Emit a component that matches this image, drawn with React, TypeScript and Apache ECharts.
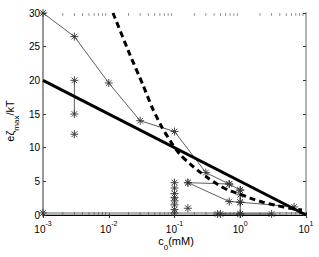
import React, { useEffect, useRef } from "react";
import * as echarts from "echarts";

const FONT = "Liberation Sans, Arial, Helvetica, sans-serif";

// x tick decades and y ticks
const xDecades = [0.001, 0.01, 0.1, 1, 10];
const yTicks = [0, 5, 10, 15, 20, 25, 30];
const xMinorTicks = [
  0.002, 0.003, 0.004, 0.005, 0.006, 0.007, 0.008, 0.009,
  0.02, 0.03, 0.04, 0.05, 0.06, 0.07, 0.08, 0.09,
  0.2, 0.3, 0.4, 0.5, 0.6, 0.7, 0.8, 0.9,
  2, 3, 4, 5, 6, 7, 8, 9,
];

// thick straight line
const thickLine: [number, number][] = [
  [0.001, 20],
  [10, 0],
];

// thick dashed curve
const dashedCurve: [number, number][] = [
  [0.0116, 30], [0.021, 23.8], [0.0332, 19.3], [0.0455, 16.0], [0.0646, 13.0],
  [0.0917, 10.6], [0.121, 9.0], [0.172, 7.6], [0.228, 6.6], [0.323, 5.5],
  [0.459, 4.5], [0.652, 3.7], [0.99, 3.1], [1.41, 2.5], [2.22, 1.9],
  [3.62, 1.4], [5.71, 1.0], [8.69, 0.75],
];

// thin series with asterisks
const seriesA: [number, number][] = [
  [0.001, 30], [0.003, 26.5], [0.01, 19.6], [0.03, 14], [0.1, 12.4],
  [0.3, 6.3], [0.68, 4.6], [1, 3.7],
];
const seriesB: [number, number][] = [[0.003, 20], [0.003, 15]];
const seriesC: [number, number][] = [[0.003, 12]];
const seriesD: [number, number][] = [[0.16, 4.8], [0.68, 4.6]];
const seriesE: [number, number][] = [[0.16, 4.8], [0.68, 2.0], [1, 1.9], [6.6, 1.2]];
const seriesF: [number, number][] = [[1, 3.7], [1, 3.0], [1, 1.9], [1, 0.15]];
const seriesG: [number, number][] = [
  [0.1, 4.8], [0.1, 4.0], [0.1, 3.2], [0.1, 2.6], [0.1, 2.1],
  [0.1, 1.5], [0.1, 0.8], [0.1, 0.3],
];
const seriesH: [number, number][] = [[0.16, 1.0]];
const seriesBottom: [number, number][] = [[0.45, 0.15], [0.5, 0.15], [1, 0.15], [3, 0.15]];
const seriesOrigin: [number, number][] = [[0.001, 0.3]];

// gray lines
const grayBottom: [number, number][] = [[0.001, 0.3], [10, 0.3]];

const STAR =
  "path://M0,-10 L0,10 M-10,0 L10,0 M-7,-7 L7,7 M-7,7 L7,-7";

export default function App() {
  const ref = useRef<HTMLDivElement>(null);
  useEffect(() => {
    if (!ref.current) return;
    const chart = echarts.init(ref.current, undefined, { renderer: "svg" });
    const thin = (data: [number, number][]) => ({
      type: "line",
      data,
      xAxisIndex: 0,
      yAxisIndex: 0,
      clip: false,
      symbol: STAR,
      symbolSize: 8,
      showSymbol: true,
      lineStyle: { color: "#333", width: 0.8 },
      itemStyle: { color: "none", borderColor: "#333", borderWidth: 0.9 },
      z: 3,
    });
    const xLabel = {
      fontFamily: FONT,
      color: "#000",
      margin: 5,
      formatter: (v: number) => `{b|10}{p|${Math.round(Math.log10(v))}}`,
      rich: {
        b: { fontSize: 10, fontFamily: FONT, color: "#000", lineHeight: 14, verticalAlign: "bottom" },
        p: { fontSize: 7, fontFamily: FONT, color: "#000", lineHeight: 14, verticalAlign: "top" },
      },
    };
    const option: any = {
      animation: false,
      grid: { left: 43, right: 13, top: 13, bottom: 42 },
      xAxis: [
        {
          type: "log",
          logBase: 10,
          min: xDecades[0],
          max: xDecades[xDecades.length - 1],
          position: "bottom",
          axisLine: { show: true, lineStyle: { color: "#999", width: 1.5 } },
          axisTick: { show: true, inside: true, length: 3, lineStyle: { color: "#333" } },
          axisLabel: xLabel,
          splitLine: { show: false },
          minorTick: { show: false },
        },
        {
          type: "log",
          logBase: 10,
          min: xDecades[0],
          max: xDecades[xDecades.length - 1],
          position: "top",
          axisLine: { show: true, lineStyle: { color: "#000", width: 1 } },
          axisTick: { show: true, inside: true, length: 3, lineStyle: { color: "#333" } },
          axisLabel: { show: false },
          splitLine: { show: false },
        },
      ],
      yAxis: [
        {
          type: "value",
          min: yTicks[0],
          max: yTicks[yTicks.length - 1],
          interval: 5,
          position: "left",
          axisLine: { show: true, lineStyle: { color: "#999", width: 2 } },
          axisTick: { show: true, inside: true, length: 3, lineStyle: { color: "#333" } },
          axisLabel: { fontFamily: FONT, fontSize: 10, color: "#000", margin: 3 },
          splitLine: { show: false },
        },
        {
          type: "value",
          min: yTicks[0],
          max: yTicks[yTicks.length - 1],
          interval: 5,
          position: "right",
          axisLine: { show: true, lineStyle: { color: "#999", width: 1.5 } },
          axisTick: { show: true, inside: true, length: 3, lineStyle: { color: "#333" } },
          axisLabel: { show: false },
          splitLine: { show: false },
        },
      ],
      series: [
        {
          type: "line",
          data: grayBottom,
          symbol: "none",
          lineStyle: { color: "#999", width: 1.5 },
          z: 1,
          clip: false,
        },
        {
          type: "scatter",
          data: xMinorTicks.map((x) => [x, 0]),
          symbol: "rect",
          symbolSize: [0.8, 2.5],
          symbolOffset: [0, -1.5],
          itemStyle: { color: "#444" },
          clip: false,
          silent: true,
          z: 2,
        },
        {
          type: "scatter",
          data: xMinorTicks.map((x) => [x, 30]),
          symbol: "rect",
          symbolSize: [0.8, 2.5],
          symbolOffset: [0, 1.5],
          itemStyle: { color: "#444" },
          clip: false,
          silent: true,
          z: 2,
        },
        {
          type: "line",
          data: thickLine,
          symbol: "none",
          lineStyle: { color: "#000", width: 3 },
          z: 4,
        },
        {
          type: "line",
          data: dashedCurve,
          symbol: "none",
          smooth: 0.25,
          lineStyle: { color: "#000", width: 3, type: [6, 4] },
          z: 4,
        },
        thin(seriesA),
        thin(seriesB),
        thin(seriesC),
        thin(seriesD),
        thin(seriesE),
        thin(seriesF),
        thin(seriesG),
        thin(seriesH),
        thin(seriesBottom),
        thin(seriesOrigin),
      ],
      graphic: [
        {
          type: "text",
          x: 176,
          y: 243,
          style: {
            text: "{a|c}{s|0}{a|(mM)}",
            align: "center",
            verticalAlign: "middle",
            rich: {
              a: { fontSize: 11, fontFamily: FONT, fill: "#000", lineHeight: 16, verticalAlign: "top" },
              s: { fontSize: 8, fontFamily: FONT, fill: "#000", lineHeight: 16, verticalAlign: "bottom" },
            },
          },
        },
        {
          type: "text",
          x: 12,
          y: 121,
          rotation: Math.PI / 2,
          style: {
            text: "{a|eζ}{s|max}{a|/kT}",
            align: "center",
            verticalAlign: "middle",
            rich: {
              a: { fontSize: 11, fontFamily: FONT, fill: "#000", lineHeight: 16, verticalAlign: "top" },
              s: { fontSize: 8, fontFamily: FONT, fill: "#000", lineHeight: 16, verticalAlign: "bottom" },
            },
          },
        },
      ],
    };
    chart.setOption(option);
    return () => chart.dispose();
  }, []);
  return (
    <div
      ref={ref}
      style={{ position: "fixed", left: 0, top: 0, width: 319, height: 257, background: "#fff" }}
    />
  );
}
